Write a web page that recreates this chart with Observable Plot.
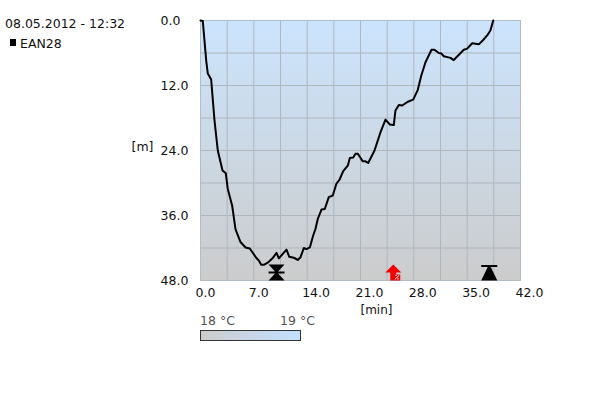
<!DOCTYPE html>
<html>
<head>
<meta charset="utf-8">
<script src="https://cdn.jsdelivr.net/npm/d3@7"></script>
<script src="https://cdn.jsdelivr.net/npm/@observablehq/plot@0.6"></script>
<style>
html,body{margin:0;padding:0;background:#fff;}
#wrap{position:relative;width:600px;height:400px;overflow:hidden;font-family:"DejaVu Sans",sans-serif;color:#111;}
#wrap svg{position:absolute;left:0;top:0;}
.t{position:absolute;white-space:nowrap;font-size:12.5px;line-height:16px;}
</style>
</head>
<body>
<div id="wrap">
<div class="t" style="left:5px;top:16px">08.05.2012 - 12:32</div>
<div class="t" style="left:10px;top:39px;width:6px;height:7px;background:#000"></div>
<div class="t" style="left:20px;top:36px">EAN28</div>
<div class="t" style="left:200px;top:313px;color:#555">18 °C</div>
<div class="t" style="left:280px;top:313px;color:#555">19 °C</div>
<div class="t" style="left:200px;top:330px;width:99px;height:9px;border:1px solid #333;background:linear-gradient(to right,#cccccc,#c2e0ff)"></div>
</div>
<script>
const minutes = [0,0.3,0.75,0.96,1.4,1.84,2.27,2.89,3.32,3.58,4.16,4.59,5.25,5.91,6.47,7.31,7.65,7.97,8.31,8.93,9.45,9.98,10.28,11.29,11.64,12.25,12.77,13.13,13.56,13.91,14.35,14.79,15.09,15.4,15.88,16.31,16.84,17.36,17.85,18.24,18.73,19.33,19.6,20.04,20.34,20.65,21.3,21.66,22.01,22.84,23.63,24.28,24.85,25.37,25.59,26.03,26.47,27.21,27.92,28.52,28.97,29.53,30.32,30.71,31.28,31.63,31.93,32.81,33.24,34.56,35,35.66,36.53,37.1,37.71,38.06,38.42];
const depths = [0,0.1,7.4,9.8,10.9,18.5,24,27.7,28.2,31.1,34.2,38.5,40.9,41.9,42.1,43.8,44.3,45.1,45.1,44.6,43.9,42.9,43.9,42.3,43.6,43.8,44.2,43.7,42,42.2,41.9,39.7,38.5,36.6,34.9,34.8,32.6,32.3,30.1,29.4,27.8,26.8,25.4,25.3,24.6,24.6,26,26,26.3,24,20.6,18.3,19.2,19.3,16.6,15.6,15.7,15,14.6,12.8,10.2,7.7,5.4,5.4,6,6.1,6.6,6.9,7.3,5.4,5.2,4.2,4.4,3.6,2.6,1.8,0];
const profile = minutes.map((m,i)=>({m,d:depths[i]}));

const xGrid = [0,3.5,7,10.5,14,17.5,21,24.5,28,31.5,35,38.5,42];
const yGrid = [0,6,12,18,24,30,36,42,48];
const xTicks = [0,7,14,21,28,35,42];
const yTicks = [0,12,24,36,48];

const markerMin = [9.98,37.9,25.3,25.3];
const markerDepth = [46.5,46.5,46.5,46.5];
const markerKind = ["hourglass","cap","arrow","detail"];

const hourglass = {draw(c){
  c.moveTo(-8,-8);c.lineTo(8,-8);c.lineTo(1.5,-1);c.lineTo(8,-1);c.lineTo(8,1);c.lineTo(1.5,1);c.lineTo(8,8);c.lineTo(-8,8);c.lineTo(-1.5,1);c.lineTo(-8,1);c.lineTo(-8,-1);c.lineTo(-1.5,-1);c.closePath();
}};
const cap = {draw(c){
  c.moveTo(-8,-7.5);c.lineTo(8,-7.5);c.lineTo(8,-5.5);c.lineTo(1.5,-5.5);c.lineTo(8,8);c.lineTo(-8,8);c.lineTo(-1.5,-5.5);c.lineTo(-8,-5.5);c.closePath();
}};
const arrow = {draw(c){
  c.moveTo(0,-8);c.lineTo(8,0);c.lineTo(3,0);c.lineTo(3,2);c.lineTo(7,2);c.lineTo(7,8);c.lineTo(-3,8);c.lineTo(-3,0);c.lineTo(-8,0);c.closePath();
}};
const detail = {draw(c){
  c.moveTo(1.5,7);c.lineTo(6,3);
  c.moveTo(2,3);c.lineTo(3.5,3);
  c.moveTo(4,6.5);c.lineTo(5.5,6.5);
}};
const symbols = {hourglass,cap,arrow,detail};
const fills = {hourglass:"#000",cap:"#000",arrow:"#f00000",detail:"none"};
const strokes = {hourglass:"none",cap:"none",arrow:"none",detail:"#fff"};
const markers = markerMin.map((m,i)=>({m,d:markerDepth[i],k:markerKind[i]}));

const chart = Plot.plot({
  width:600,height:400,
  marginLeft:200,marginRight:80,marginTop:20,marginBottom:120,
  style:{fontFamily:"DejaVu Sans, sans-serif",fontSize:"12.5px",color:"#111",background:"transparent",overflow:"visible"},
  x:{domain:[0,42],label:null},
  y:{domain:[0,48],reverse:true,label:null},
  marks:[
    ()=>{
      const s=d3.create("svg:defs");
      const g=s.append("linearGradient").attr("id","bg").attr("x1",0).attr("y1",0).attr("x2",0).attr("y2",1);
      g.append("stop").attr("offset","0").attr("stop-color","#cbe4fd");
      g.append("stop").attr("offset","1").attr("stop-color","#cccccc");
      return s.node();
    },
    Plot.frame({fill:"url(#bg)",stroke:null}),
    Plot.gridX(xGrid,{stroke:"#aeb6be",strokeOpacity:1,strokeWidth:1}),
    Plot.gridY(yGrid,{stroke:"#aeb6be",strokeOpacity:1,strokeWidth:1}),
    Plot.frame({stroke:"#b4bcc4"}),
    Plot.axisX(xTicks,{tickSize:0,tickPadding:8,textAnchor:"start",dx:-5,tickFormat:d=>d.toFixed(1),label:null,fill:"#111"}),
    Plot.axisY(yTicks,{anchor:"left",tickSize:0,tickPadding:40,textAnchor:"start",tickFormat:d=>d.toFixed(1),label:null,fill:"#111"}),
    Plot.text(["[m]"],{frameAnchor:"left",dx:-69,dy:-4,textAnchor:"start",fill:"#111"}),
    Plot.text(["[min]"],{frameAnchor:"bottom",dx:16,dy:33,fontSize:12,fill:"#111"}),
    Plot.line(profile,{x:"m",y:"d",stroke:"#000",strokeWidth:2,strokeLinejoin:"round",curve:"linear"}),
    ...markers.map(k=>Plot.dot([k],{x:"m",y:"d",symbol:()=>symbols[k.k],fill:fills[k.k],stroke:strokes[k.k],strokeWidth:1,r:5}))
  ]
});
document.getElementById("wrap").prepend(chart);
</script>
</body>
</html>
